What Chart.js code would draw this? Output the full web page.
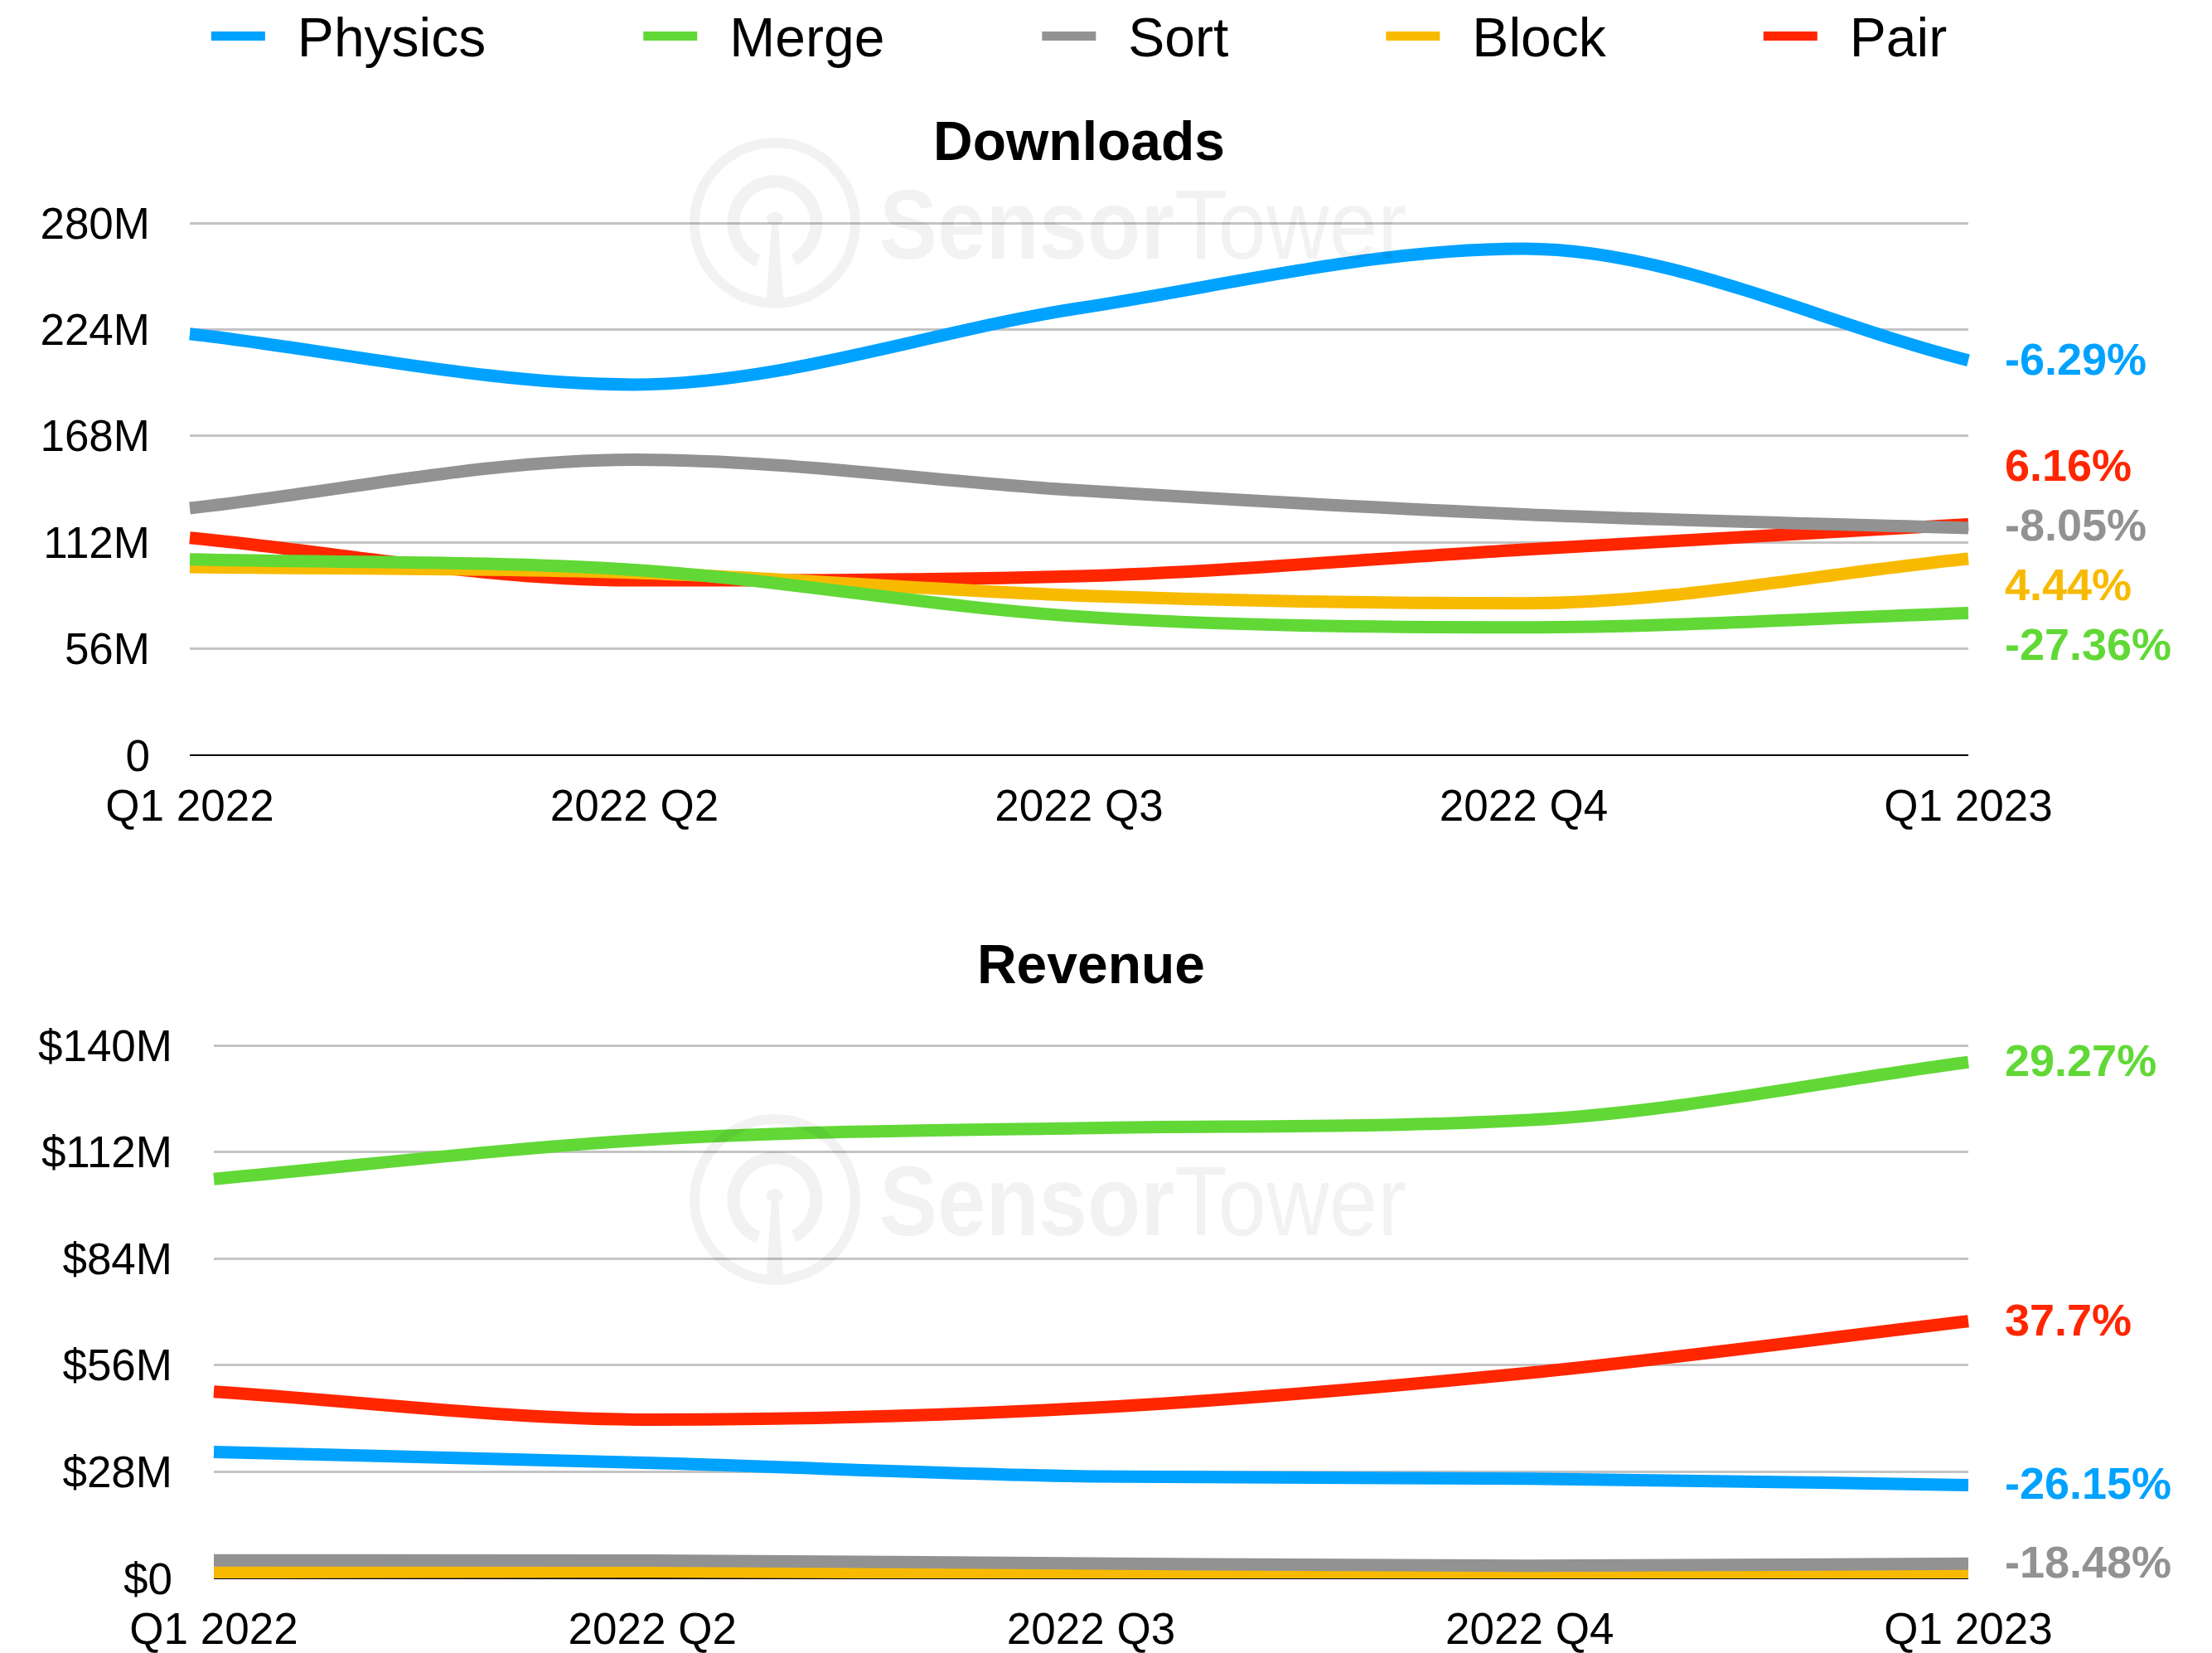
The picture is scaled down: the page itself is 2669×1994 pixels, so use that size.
<!DOCTYPE html>
<html>
<head>
<meta charset="utf-8">
<title>Downloads and Revenue by Subgenre</title>
<script src="https://cdn.jsdelivr.net/npm/chart.js"></script>
<style>
  html, body { margin: 0; padding: 0; background: #fff; overflow: hidden; }
  #page { position: relative; width: 2669px; height: 1994px; }
  .panel { position: absolute; left: 0; width: 2669px; }
  #downloadsPanel { top: 0; height: 1010px; }
  #revenuePanel { top: 1010px; height: 984px; }
</style>
</head>
<body>
<div id="page">
  <div class="panel" id="downloadsPanel"><canvas id="downloadsChart" width="2669" height="1010"></canvas></div>
  <div class="panel" id="revenuePanel"><canvas id="revenueChart" width="2669" height="984"></canvas></div>
</div>
<script>
// Quarterly downloads and revenue per puzzle subgenre
const quarters = ['Q1 2022', '2022 Q2', '2022 Q3', '2022 Q4', 'Q1 2023'];
const seriesNames = ['Physics', 'Merge', 'Sort', 'Block', 'Pair'];
const seriesColors = ['#00A2FF', '#61D836', '#929292', '#F8BA00', '#FF2600'];

// Downloads, millions
const physicsDownloads = [221.7, 195, 235.2, 266.5, 207.75];
const mergeDownloads = [103, 97.5, 73, 67.3, 74.82];
const sortDownloads = [130, 155.5, 139.3, 126.7, 119.53];
const blockDownloads = [99, 96, 84, 79.9, 103.4];
const pairDownloads = [114.4, 92, 94.2, 108.2, 121.45];
const downloadsChange = ['-6.29%', '-27.36%', '-8.05%', '4.44%', '6.16%'];
const downloadsTicks = [0, 56, 112, 168, 224, 280];

// Revenue, millions of USD
const physicsRevenue = [33.2, 30.3, 26.8, 26.2, 24.52];
const mergeRevenue = [104.9, 115.3, 118.3, 120.4, 135.6];
const sortRevenue = [4.75, 4.7, 3.9, 3.3, 3.87];
const blockRevenue = [1.6, 1.8, 1.4, 1.1, 1.0];
const pairRevenue = [49.05, 41.7, 44.8, 54.0, 67.54];
const revenueChange = ['-26.15%', '29.27%', '-18.48%', null, '37.7%'];
const revenueTicks = [0, 28, 56, 84, 112, 140];

const fontFamily = "'Liberation Sans', Arial, Helvetica, sans-serif";
Chart.defaults.font.family = fontFamily;
Chart.defaults.color = '#000';

// faint SensorTower mark, drawn once off-screen then laid over the plot
const watermark = {
  id: 'watermark',
  afterDraw(chart, args, opts) {
    const off = document.createElement('canvas');
    off.width = chart.width;
    off.height = chart.height;
    const c = off.getContext('2d');
    const cx = 935, cy = opts.y;
    c.fillStyle = '#000';
    c.strokeStyle = '#000';
    c.lineWidth = 12;
    c.beginPath();
    c.arc(cx, cy, 97, 0, Math.PI * 2);
    c.stroke();
    c.lineWidth = 15;
    c.beginPath();
    c.arc(cx, cy, 50, 114 * Math.PI / 180, 423 * Math.PI / 180);
    c.stroke();
    c.beginPath();
    c.ellipse(cx, cy - 5, 10, 8, 0, 0, Math.PI * 2);
    c.fill();
    c.beginPath();
    c.moveTo(cx - 4, cy);
    c.lineTo(cx + 4, cy);
    c.lineTo(cx + 10, cy + 92);
    c.lineTo(cx - 10, cy + 92);
    c.closePath();
    c.fill();
    c.save();
    c.translate(1061, cy + 43);
    c.scale(0.89, 1);
    c.font = 'bold 118px ' + fontFamily;
    c.fillText('Sensor', 0, 0);
    const w = c.measureText('Sensor').width;
    c.font = '118px ' + fontFamily;
    c.fillText('Tower', w, 0);
    c.restore();

    const ctx = chart.ctx;
    ctx.save();
    ctx.globalAlpha = 0.05;
    ctx.drawImage(off, 0, 0);
    ctx.restore();
  }
};

// chart title, plus the shared legend on the first chart
const header = {
  id: 'header',
  afterDraw(chart, args, opts) {
    const { ctx, chartArea } = chart;
    const cx = (chartArea.left + chartArea.right) / 2;
    ctx.save();
    ctx.textBaseline = 'alphabetic';
    ctx.fillStyle = '#000';
    ctx.textAlign = 'center';
    ctx.font = 'bold 66px ' + fontFamily;
    ctx.fillText(opts.title, cx, opts.titleY);

    if (opts.legend) {
      ctx.font = '66px ' + fontFamily;
      ctx.textAlign = 'left';
      const widths = seriesNames.map(n => ctx.measureText(n).width);
      const total = widths.reduce((s, w) => s + 104 + w, 0) + 190 * (seriesNames.length - 1);
      let x = cx - total / 2;
      seriesNames.forEach((name, i) => {
        ctx.fillStyle = seriesColors[i];
        ctx.fillRect(x, 38, 65, 11);
        ctx.fillStyle = '#000';
        ctx.fillText(name, x + 104, 68);
        x += 104 + widths[i] + 190;
      });
    }
    ctx.restore();
  }
};

// push overlapping labels apart, keeping each cluster centred on its lines
function spreadLabels(items, gap) {
  items.sort((a, b) => a.y - b.y);
  let groups = items.map(it => ({ members: [it], y: it.y }));
  let merged = true;
  while (merged) {
    merged = false;
    for (let i = 1; i < groups.length; i++) {
      const a = groups[i - 1], b = groups[i];
      const aBottom = a.y + (a.members.length - 1) * gap / 2;
      const bTop = b.y - (b.members.length - 1) * gap / 2;
      if (bTop - aBottom < gap) {
        const members = a.members.concat(b.members);
        const y = members.reduce((s, m) => s + m.y, 0) / members.length;
        groups.splice(i - 1, 2, { members, y });
        merged = true;
        break;
      }
    }
  }
  groups.forEach(g => {
    g.members.forEach((m, i) => {
      m.pos = g.y + (i - (g.members.length - 1) / 2) * gap;
    });
  });
}

// percentage change since Q1 2022, next to the end of each line
const endLabels = {
  id: 'endLabels',
  afterDatasetsDraw(chart, args, opts) {
    const { ctx, chartArea, scales } = chart;
    const items = [];
    chart.data.datasets.forEach((ds, i) => {
      const text = opts.changes[i];
      if (!text) return;
      const y = scales.y.getPixelForValue(ds.data[ds.data.length - 1]);
      items.push({ text, color: ds.borderColor, y });
    });
    spreadLabels(items, 72);
    ctx.save();
    ctx.font = 'bold 54px ' + fontFamily;
    ctx.textAlign = 'left';
    ctx.textBaseline = 'alphabetic';
    items.forEach(it => {
      ctx.fillStyle = it.color;
      ctx.fillText(it.text, chartArea.right + 44, it.pos + 17);
    });
    ctx.restore();
  }
};

function makeChart(canvasId, cfg) {
  const datasets = seriesNames.map((name, i) => ({
    label: name,
    data: cfg.values[i],
    borderColor: seriesColors[i],
    backgroundColor: seriesColors[i],
    borderWidth: 15,
    pointRadius: 0,
    pointHoverRadius: 0,
    cubicInterpolationMode: 'monotone',
    fill: false
  }));

  return new Chart(document.getElementById(canvasId), {
    type: 'line',
    data: { labels: quarters, datasets },
    options: {
      responsive: false,
      devicePixelRatio: 1,
      animation: false,
      events: [],
      layout: { padding: { top: cfg.plotTop, right: 294, bottom: 0, left: 0 } },
      plugins: {
        legend: { display: false },
        title: { display: false },
        tooltip: { enabled: false },
        header: { title: cfg.title, titleY: cfg.titleY, legend: cfg.legend },
        endLabels: { changes: cfg.changes },
        watermark: { y: cfg.markY }
      },
      scales: {
        x: {
          grid: { display: false },
          border: { display: false },
          ticks: { font: { size: 53 }, color: '#000', padding: 25, maxRotation: 0, autoSkip: false },
          afterFit: s => { s.height = cfg.axisHeight; }
        },
        y: {
          min: 0,
          max: cfg.ticks[cfg.ticks.length - 1],
          afterBuildTicks: s => { s.ticks = cfg.ticks.map(v => ({ value: v })); },
          afterFit: s => { s.width = cfg.axisWidth; },
          border: { display: false },
          grid: {
            drawTicks: false,
            color: c => (c.tick && c.tick.value === 0 ? '#000' : '#c4c4c4'),
            lineWidth: c => (c.tick && c.tick.value === 0 ? 2 : 3)
          },
          ticks: { font: { size: 53 }, color: '#000', padding: cfg.tickPad, labelOffset: 4, callback: cfg.format }
        }
      }
    },
    plugins: [watermark, header, endLabels]
  });
}

makeChart('downloadsChart', {
  title: 'Downloads',
  titleY: 193,
  legend: true,
  markY: 269,
  plotTop: 269,
  axisHeight: 99,
  axisWidth: 229,
  tickPad: 48,
  ticks: downloadsTicks,
  format: v => (v === 0 ? '0' : v + 'M'),
  changes: downloadsChange,
  values: [physicsDownloads, mergeDownloads, sortDownloads, blockDownloads, pairDownloads]
});

makeChart('revenueChart', {
  title: 'Revenue',
  titleY: 176,
  legend: false,
  markY: 437,
  plotTop: 251,
  axisHeight: 90,
  axisWidth: 258,
  tickPad: 50,
  ticks: revenueTicks,
  format: v => '$' + v + (v === 0 ? '' : 'M'),
  changes: revenueChange,
  values: [physicsRevenue, mergeRevenue, sortRevenue, blockRevenue, pairRevenue]
});
</script>
</body>
</html>
